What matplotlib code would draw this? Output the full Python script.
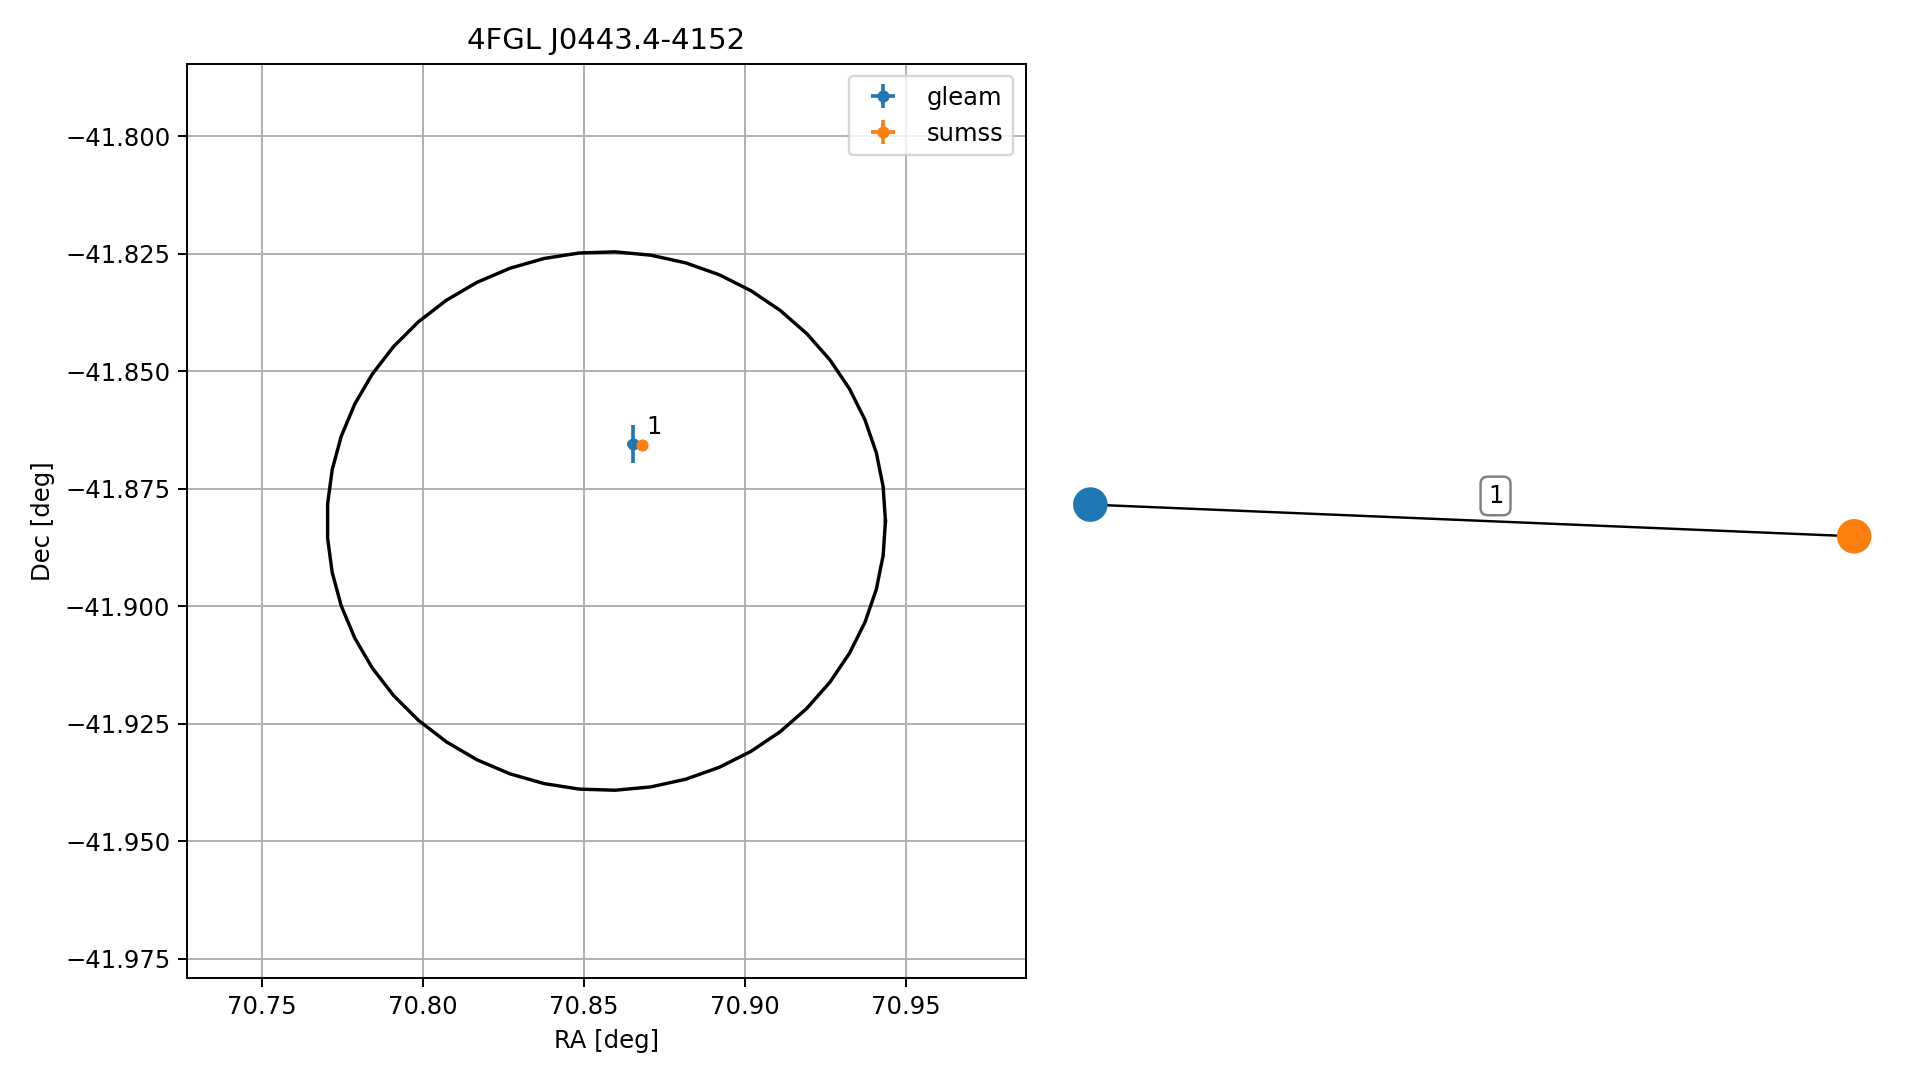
import numpy as np
import matplotlib
matplotlib.use("Agg")
import matplotlib.pyplot as plt

# sources in the field
src_names = ["gleam", "sumss"]
src_ra = [70.8653, 70.8679]
src_dec = [-41.8655, -41.8658]
src_ra_err = [0.0021, 0.0003]
src_dec_err = [0.0041, 0.0003]
match_labels = ["1"]
match_label_pos = (70.8692, -41.8618)

# 4FGL error ellipse
ell_ra0, ell_dec0 = 70.8569, -41.8819
ell_a, ell_b = 0.0867, 0.0573
n_pts = 50

# match graph (node layout)
node_x = [0.0, 1.0]
node_y = [0.082, 0.0085]
node_colors = ["tab:blue", "tab:orange"]
edge_label = "1"
edge_label_xy = (0.5305, 0.102)

dpi = 175
fig = plt.figure(figsize=(1919 / dpi, 1080 / dpi), dpi=dpi)
ax = fig.add_axes([0.0976, 0.0941, 0.4368, 0.8469])

t = np.linspace(0, 2 * np.pi, n_pts)
ax.plot(ell_ra0 + ell_a * np.cos(t), ell_dec0 + ell_b * np.sin(t), color="k", lw=1.4)

for i, name in enumerate(src_names):
    ax.errorbar(src_ra[i], src_dec[i], xerr=src_ra_err[i], yerr=src_dec_err[i],
                fmt=".", ms=8, label=name)
ax.text(match_label_pos[0], match_label_pos[1], match_labels[0], fontsize=10,
        ha="left", va="center")

ax.set_xlim(70.7268, 70.9871)
ax.set_ylim(-41.9792, -41.7846)
ax.grid(True)
ax.set_xlabel("RA [deg]")
ax.set_ylabel("Dec [deg]")
ax.set_title("4FGL J0443.4-4152", fontsize=12)
ax.legend(loc="upper right")

ax2 = fig.add_axes([0.5682, 0.1, 0.398, 0.8])
ax2.plot(node_x, node_y, color="k", lw=1, zorder=1)
ax2.scatter(node_x, node_y, s=175, c=node_colors, zorder=2, clip_on=False)
ax2.text(edge_label_xy[0], edge_label_xy[1], edge_label, fontsize=10, ha="center", va="center",
         bbox=dict(boxstyle="round", ec="gray", fc="white"))
ax2.set_xlim(0, 1)
ax2.set_ylim(-1, 1)
ax2.axis("off")

fig.savefig("out.png", dpi=dpi)
